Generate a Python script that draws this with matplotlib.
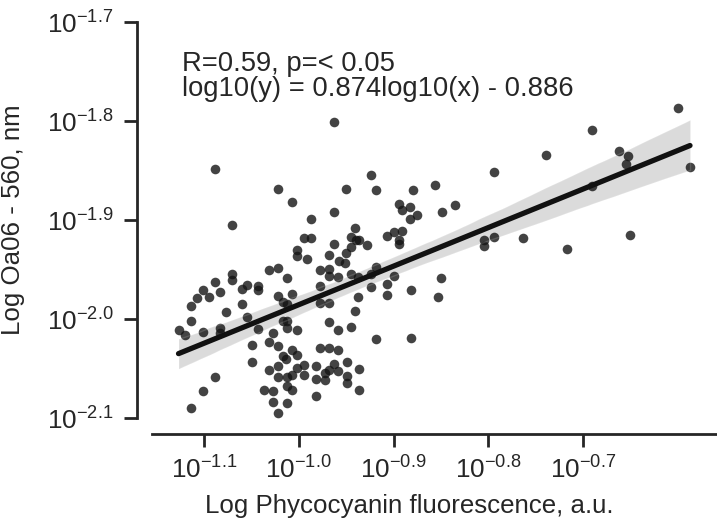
import numpy as np
import matplotlib
matplotlib.use("Agg")
import matplotlib.pyplot as plt
from matplotlib.ticker import FixedLocator, FuncFormatter
import seaborn as sns

# log10 values
log_phycocyanin = [
    -1.089, -1.022, -1.007, -1.071, -1.002, -1.002, -0.963, -0.924, -0.950, -0.919,
    -0.879, -0.856, -0.894, -0.891, -0.883, -0.883, -0.875, -0.849, -0.963, -0.987,
    -0.941, -0.945, -0.940, -0.936, -0.928, -0.963, -0.987, -0.995, -0.907, -0.899,
    -0.891, -0.894, -0.894, -0.945, -0.950, -0.968, -0.958, -0.991, -1.032, -1.022,
    -1.012, -1.071, -1.071, -1.089, -1.101, -1.107, -1.095, -1.083, -1.060, -1.055,
    -1.043, -1.043, -1.114, -1.060, -1.077, -1.022, -1.017, -1.012, -1.007, -1.055,
    -1.114, -1.127, -1.120, -1.101, -1.083, -1.083, -1.043, -1.017, -1.012, -1.012,
    -1.002, -1.027, -1.032, -1.049, -1.022, -1.007, -1.017, -1.014, -1.002, -1.049,
    -1.032, -1.022, -1.002, -0.995, -0.995, -1.022, -1.012, -1.007, -1.089, -1.101,
    -1.114, -1.037, -1.027, -1.012, -1.007, -1.027, -1.012, -1.022, -0.978, -0.968,
    -0.968, -0.959, -0.951, -0.945, -0.937, -0.919, -0.924, -0.899, -0.907, -0.924,
    -0.978, -0.937, -0.907, -0.882, -0.853, -0.850, -0.978, -0.968, -0.941, -0.968,
    -0.959, -0.945, -0.919, -0.882, -0.978, -0.968, -0.959, -0.982, -0.963, -0.949,
    -0.972, -0.968, -0.959, -0.949, -0.936, -0.982, -0.972, -0.949, -0.936, -0.982,
    -0.600, -0.690, -0.739, -0.662, -0.652, -0.655, -0.587, -0.794, -0.835, -0.690,
    -0.804, -0.804, -0.794, -0.763, -0.717, -0.650,
]
log_oa06_560 = [
    -1.848, -1.869, -1.882, -1.905, -1.930, -1.936, -1.801, -1.855, -1.869, -1.870,
    -1.870, -1.865, -1.884, -1.890, -1.887, -1.899, -1.895, -1.892, -1.892, -1.899,
    -1.908, -1.917, -1.920, -1.920, -1.925, -1.924, -1.918, -1.918, -1.916, -1.912,
    -1.911, -1.920, -1.924, -1.927, -1.933, -1.935, -1.941, -1.939, -1.951, -1.948,
    -1.959, -1.955, -1.961, -1.963, -1.971, -1.979, -1.978, -1.973, -1.970, -1.966,
    -1.967, -1.971, -1.987, -1.985, -1.993, -1.977, -1.983, -1.985, -1.975, -1.998,
    -2.002, -2.011, -2.016, -2.013, -2.009, -2.014, -2.010, -2.002, -2.002, -2.009,
    -2.011, -2.014, -2.023, -2.026, -2.027, -2.031, -2.037, -2.040, -2.036, -2.043,
    -2.052, -2.047, -2.049, -2.046, -2.057, -2.059, -2.059, -2.057, -2.059, -2.073,
    -2.090, -2.072, -2.073, -2.068, -2.072, -2.084, -2.085, -2.095, -1.951, -1.949,
    -1.957, -1.958, -1.943, -1.955, -1.958, -1.947, -1.955, -1.957, -1.965, -1.968,
    -1.967, -1.978, -1.976, -1.971, -1.978, -1.959, -1.984, -1.984, -1.992, -2.003,
    -2.011, -2.008, -2.020, -2.019, -2.029, -2.029, -2.031, -2.047, -2.045, -2.043,
    -2.055, -2.052, -2.053, -2.058, -2.051, -2.061, -2.062, -2.065, -2.072, -2.078,
    -1.787, -1.809, -1.834, -1.830, -1.835, -1.843, -1.846, -1.852, -1.885, -1.866,
    -1.920, -1.926, -1.917, -1.918, -1.929, -1.915,
]
x_ticks = [-1.1, -1.0, -0.9, -0.8, -0.7]
y_ticks = [-2.1, -2.0, -1.9, -1.8, -1.7]
xlabel = "Log Phycocyanin fluorescence, a.u."
ylabel = "Log Oa06 - 560, nm"
stat_line1 = "R=0.59, p=< 0.05"
stat_line2 = "log10(y) = 0.874log10(x) - 0.886"

sns.set_style("ticks")
plt.rcParams["font.family"] = ["Liberation Sans", "DejaVu Sans"]
plt.rcParams["mathtext.fontset"] = "dejavusans"

W, H = 717, 525
fig = plt.figure(figsize=(W / 100, H / 100), dpi=100)
ax = fig.add_axes([152 / W, (H - 418) / H, (W - 152) / W, (418 - 22) / H])

dark = "#262626"
sns.regplot(x=np.array(log_phycocyanin), y=np.array(log_oa06_560), ax=ax,
            color="#141414", ci=95, n_boot=1000, seed=1,
            scatter_kws=dict(s=48, alpha=0.8, linewidths=0),
            line_kws=dict(lw=3.8, color="#111111"))

ax.set_xlim(-1.155, -0.5585)
ax.set_ylim(-2.1, -1.7)
ax.xaxis.set_major_locator(FixedLocator(x_ticks))
ax.yaxis.set_major_locator(FixedLocator(y_ticks))
fmt = FuncFormatter(lambda v, p: r"$\mathdefault{10^{%.1f}}$" % v)
ax.xaxis.set_major_formatter(fmt)
ax.yaxis.set_major_formatter(fmt)

for s in ["top", "right"]:
    ax.spines[s].set_visible(False)
ax.spines["left"].set_position(("outward", 11))
ax.spines["bottom"].set_position(("outward", 11.5))
for s in ["left", "bottom"]:
    ax.spines[s].set_linewidth(2.0)
    ax.spines[s].set_color(dark)
ax.tick_params(axis="both", which="major", length=9.5, width=2.0, color=dark,
               labelsize=18.8, labelcolor=dark, direction="out")
ax.tick_params(axis="x", pad=7)
ax.tick_params(axis="y", pad=7)

ax.set_xlabel(xlabel, fontsize=18.6, color=dark)
ax.set_ylabel(ylabel, fontsize=18.6, color=dark)
ax.xaxis.set_label_coords((409.5 - 152) / 565, -(494 - 418) / 396)
ax.xaxis.label.set_va("top")
ax.yaxis.label.set_va("center")
ax.yaxis.set_label_coords((13 - 152) / 565, 0.5)

fig.text(182 / W, 1 - 71 / H, stat_line1, fontsize=19.7, color=dark, va="baseline", ha="left")
fig.text(182 / W, 1 - 96 / H, stat_line2, fontsize=19.7, color=dark, va="baseline", ha="left")

fig.savefig("out.png", dpi=100)
